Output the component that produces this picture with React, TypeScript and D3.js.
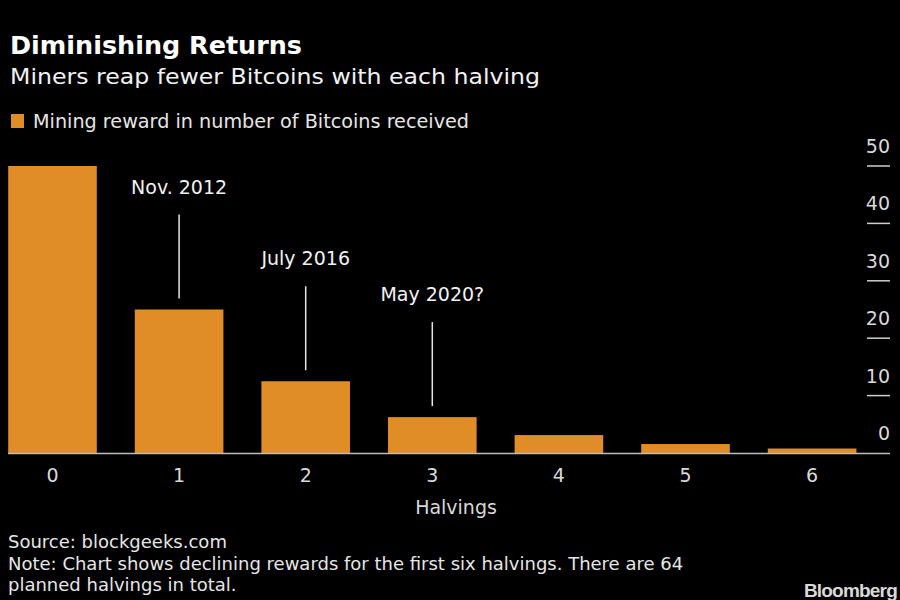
import React from "react";
import * as d3 from "d3";

const halvings = ["0", "1", "2", "3", "4", "5", "6"];
const rewards = [50, 25, 12.5, 6.25, 3.125, 1.5625, 0.78125];
const yTicks = [0, 10, 20, 30, 40, 50];
const annotations = [
  { halving: "1", label: "Nov. 2012" },
  { halving: "2", label: "July 2016" },
  { halving: "3", label: "May 2020?" },
];
const noteLines = [
  "Source: blockgeeks.com",
  "Note: Chart shows declining rewards for the first six halvings. There are 64",
  "planned halvings in total.",
];

const W = 900;
const H = 600;
const FONT = "'DejaVu Sans', 'Open Sans', sans-serif";
const ORANGE = "#E08C27";

export default function App() {
  const x = d3
    .scaleBand<string>()
    .domain(halvings)
    .range([-10.8, 875.4])
    .paddingInner(0.3)
    .paddingOuter(0.15);
  const y = d3.scaleLinear().domain([0, 50]).range([453, 166]);

  return (
    <div style={{ position: "absolute", left: 0, top: 0 }}>
      <svg width={W} height={H} style={{ display: "block", background: "#000" }} fontFamily={FONT}>
        <rect x={0} y={0} width={W} height={H} fill="#000" />
        <text x={10} y={54} fill="#fff" fontSize={25} fontWeight={700} textLength={292} lengthAdjust="spacingAndGlyphs">
          Diminishing Returns
        </text>
        <text x={10} y={84} fill="#f2f2f2" fontSize={22} textLength={530} lengthAdjust="spacingAndGlyphs">
          Miners reap fewer Bitcoins with each halving
        </text>
        <rect x={11} y={114} width={13} height={14} fill={ORANGE} />
        <text x={33} y={128} fill="#e6e6e6" fontSize={19} textLength={436} lengthAdjust="spacingAndGlyphs">
          Mining reward in number of Bitcoins received
        </text>

        {/* y axis ticks on the right */}
        {yTicks.map((t) => (
          <g key={t}>
            {t !== 0 && (
              <line x1={867} x2={890} y1={y(t)} y2={y(t)} stroke="#cfcfcf" strokeWidth={1.5} />
            )}
            <text x={890} y={y(t) - 13} textAnchor="end" fill="#d9d9d9" fontSize={19}>
              {t}
            </text>
          </g>
        ))}

        {/* bars */}
        {halvings.map((h, i) => (
          <rect
            key={h}
            x={x(h)}
            y={y(rewards[i])}
            width={x.bandwidth()}
            height={y(0) - y(rewards[i])}
            fill={ORANGE}
          />
        ))}

        {/* baseline */}
        <line x1={8} x2={890} y1={y(0) + 0.5} y2={y(0) + 0.5} stroke="#bdbdbd" strokeWidth={1.5} />

        {/* annotations */}
        {annotations.map((a) => {
          const idx = halvings.indexOf(a.halving);
          const cx = (x(a.halving) as number) + x.bandwidth() / 2;
          const top = y(rewards[idx]);
          const lineBottom = top - 11;
          const lineTop = lineBottom - 84;
          return (
            <g key={a.label}>
              <line x1={cx} x2={cx} y1={lineTop} y2={lineBottom} stroke="#e6e6e6" strokeWidth={1.5} />
              <text x={cx} y={lineTop - 21} textAnchor="middle" fill="#f2f2f2" fontSize={19}>
                {a.label}
              </text>
            </g>
          );
        })}

        {/* x tick labels */}
        {halvings.map((h) => (
          <text
            key={h}
            x={(x(h) as number) + x.bandwidth() / 2}
            y={482}
            textAnchor="middle"
            fill="#d9d9d9"
            fontSize={19}
          >
            {h}
          </text>
        ))}
        <text x={456} y={514} textAnchor="middle" fill="#d9d9d9" fontSize={19}>
          Halvings
        </text>

        {noteLines.map((l, i) => (
          <text key={i} x={8} y={548 + i * 21.5} fill="#e6e6e6" fontSize={18}>
            {l}
          </text>
        ))}

        <text x={897} y={597} textAnchor="end" fill="#d9d9d9" fontSize={19} fontWeight={700} letterSpacing={-0.8} fontFamily="'Liberation Sans', Arial, sans-serif">
          Bloomberg
        </text>
      </svg>
    </div>
  );
}
